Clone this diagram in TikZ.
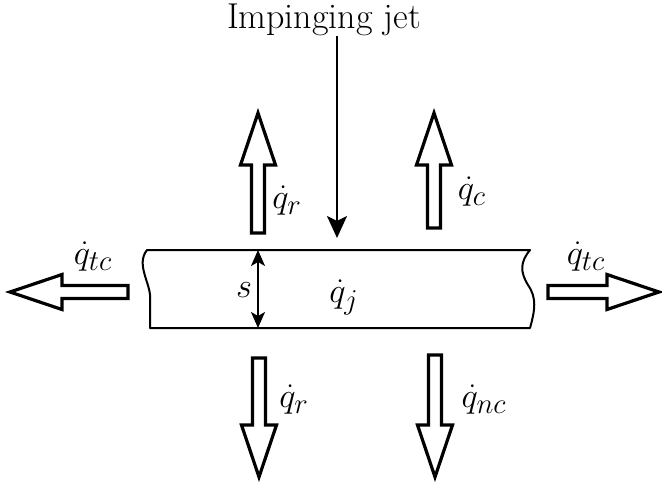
\documentclass[tikz,border=0pt]{standalone}
\usepackage{amsmath}
\usetikzlibrary{arrows.meta,calc}
\DeclareMathSizes{18}{18}{15}{12}
\tikzset{
  every node/.style={font=\fontsize{18}{21}\selectfont, inner sep=0pt},
  % --- shapes
  slab/.style   = {line width=1pt, line join=round},
  flux/.style   = {line width=1.6pt, line join=miter, fill=white},
  % --- edges
  jetline/.style= {line width=1.1pt, -{Stealth[length=11pt,width=10pt,inset=2.5pt]}},
  dim/.style    = {line width=0.9pt, {Stealth[length=8pt,width=7pt,inset=2pt]}-{Stealth[length=8pt,width=7pt,inset=2pt]}},
  pics/heat/.style = {code={
    \draw[flux] (0,-6.5) -- (#1-52,-6.5) -- (#1-52,-17.5) -- (#1,0)
      -- (#1-52,17.5) -- (#1-52,6.5) -- (0,6.5) -- cycle;}},
}
\begin{document}
\begin{tikzpicture}[x=0.5pt,y=-0.5pt]
  \useasboundingbox (0,0) rectangle (662,482);
  % plate with broken ends
  \draw[slab] (147,250) -- (530,250)
    .. controls (520,262) and (520,272) .. (528,285)
    .. controls (537,298) and (535,310) .. (530,328)
    -- (150,328) -- (150,300)
    .. controls (152,285) and (135,265) .. (147,250) -- cycle;
  % jet
  \node (jet) at (324,20) {Impinging jet};
  \coordinate (jettip) at (337,238);
  \draw[jetline] (jettip |- jet.south) -- (jettip);
  % thickness
  \coordinate (stop) at (258,250);
  \coordinate (sbot) at (258,328);
  \draw[dim] (stop) -- (sbot);
  \node (s) at (244,290) {$s$};
  \node (qj) at (344,297) {$\dot{q}_j$};
  % heat fluxes
  \pic[rotate=90]  at (258,233) {heat=120};
  \pic[rotate=90]  at (434,228) {heat=115};
  \pic[rotate=-90] at (259,358) {heat=119};
  \pic[rotate=-90] at (435,355) {heat=122};
  \pic[rotate=180] at (128,292) {heat=118};
  \pic             at (548,292) {heat=111};
  \node (qru) at (287,201) {$\dot{q}_r$};
  \node (qc)  at (472,192) {$\dot{q}_c$};
  \node (qrd) at (294,400) {$\dot{q}_r$};
  \node (qnc) at (484,400) {$\dot{q}_{nc}$};
  \node (qtl) at (93,257)  {$\dot{q}_{tc}$};
  \node (qtr) at (586,257) {$\dot{q}_{tc}$};
\end{tikzpicture}
\end{document}
